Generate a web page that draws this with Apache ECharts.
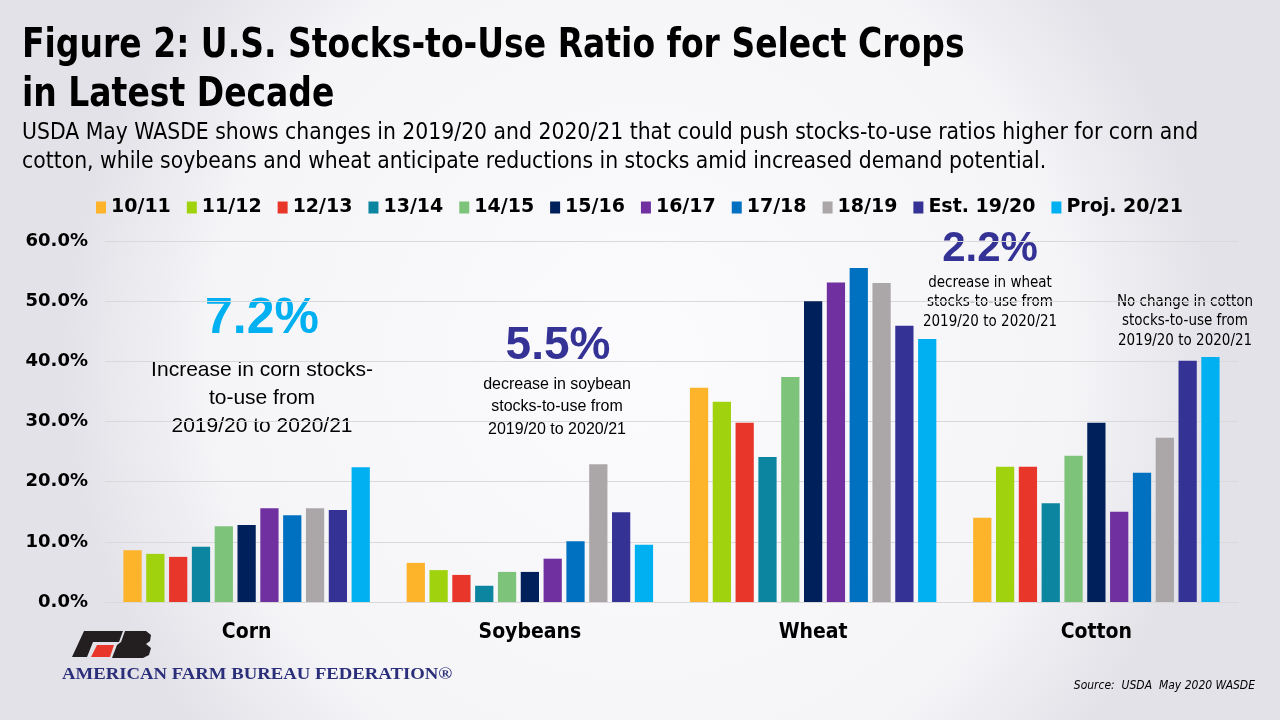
<!DOCTYPE html>
<html>
<head>
<meta charset="utf-8">
<script src="https://cdn.jsdelivr.net/npm/echarts@6/dist/echarts.min.js"></script>
<style>
  html, body { margin: 0; padding: 0; }
  #chart { width: 1280px; height: 720px; }
</style>
</head>
<body>
<div id="chart"></div>
<script>
// crops on the x axis, seasons as the series
var crops = ['Corn', 'Soybeans', 'Wheat', 'Cotton'];
var seasons = ['10/11', '11/12', '12/13', '13/14', '14/15', '15/16', '16/17', '17/18', '18/19', 'Est. 19/20', 'Proj. 20/21'];

// stocks-to-use ratio (%), one value per season
var corn     = [8.6, 8.0, 7.5, 9.2, 12.6, 12.8, 15.6, 14.4, 15.6, 15.3, 22.4];
var soybeans = [6.5, 5.3, 4.5, 2.7, 5.0, 5.0, 7.2, 10.1, 22.9, 14.9, 9.5];
var wheat    = [35.6, 33.3, 29.8, 24.1, 37.4, 50.0, 53.1, 55.5, 53.0, 45.9, 43.7];
var cotton   = [14.0, 22.5, 22.5, 16.4, 24.3, 29.8, 15.0, 21.5, 27.3, 40.1, 40.7];

var yTicks = [0, 10, 20, 30, 40, 50, 60];

var colors = ['#FDB32A', '#A0D20E', '#E8372A', '#0C85A0', '#7DC47A', '#00205B',
              '#7030A0', '#0070C0', '#ABA7A8', '#353296', '#00B0F0'];

var narrow = '"DejaVu Sans Condensed", "Roboto", sans-serif';
var wide = '"DejaVu Sans", sans-serif';
var plain = '"Liberation Sans", Arial, sans-serif';

var byCrop = [corn, soybeans, wheat, cotton];
var series = seasons.map(function (name, i) {
    return {
        name: name,
        type: 'bar',
        barGap: '25%',
        barCategoryGap: '13%',
        itemStyle: { color: colors[i] },
        data: byCrop.map(function (arr) { return arr[i]; })
    };
});

// left-aligned text, top edge at y, optional horizontal squeeze
function txt(x, y, text, font, color, sx, align) {
    return {
        type: 'text', x: x, y: y, scaleX: sx || 1, originX: 0,
        style: { text: text, font: font, fill: color || '#000', textAlign: align || 'left', textVerticalAlign: 'top' }
    };
}

function ctext(cx, y, text, font, color, lh) {
    return {
        type: 'text', x: cx, y: y,
        style: { text: text, font: font, fill: color || '#000', textAlign: 'center', lineHeight: lh }
    };
}

var chart = echarts.init(document.getElementById('chart'));
chart.setOption({
    backgroundColor: {
        type: 'radial', x: 0.5, y: 0.5, r: 0.8,
        colorStops: [
            { offset: 0, color: '#FBFBFD' },
            { offset: 0.75, color: '#F5F5F8' },
            { offset: 1, color: '#E2E2E8' }
        ]
    },
    color: colors,
    animation: false,
    legend: {
        top: 193,
        left: 91,
        itemWidth: 10,
        itemHeight: 12,
        itemGap: 16,
        icon: 'rect',
        textStyle: { fontFamily: wide, fontWeight: 'bold', fontSize: 19, color: '#000' },
        data: seasons
    },
    grid: { left: 105, right: 42, top: 241, bottom: 118, containLabel: false },
    xAxis: {
        type: 'category',
        data: crops,
        axisLine: { show: true, lineStyle: { color: '#D9D9D9' } },
        axisTick: { show: false },
        axisLabel: { margin: 20, fontFamily: narrow, fontWeight: 'bold', fontSize: 21, color: '#000' }
    },
    yAxis: {
        type: 'value',
        min: yTicks[0],
        max: yTicks[yTicks.length - 1],
        interval: 10,
        axisLine: { show: false },
        axisTick: { show: false },
        splitLine: { lineStyle: { color: '#D9D9D9' } },
        axisLabel: {
            margin: 17, fontFamily: wide, fontWeight: 'bold', fontSize: 18, color: '#000',
            formatter: function (v) { return v.toFixed(1) + '%'; }
        }
    },
    series: series,
    graphic: [
        txt(22, 26, 'Figure 2: U.S. Stocks-to-Use Ratio for Select Crops', 'bold 41px ' + narrow, '#000', 0.895),
        txt(22, 75, 'in Latest Decade', 'bold 41px ' + narrow, '#000', 0.895),
        txt(22, 122, 'USDA May WASDE shows changes in 2019/20 and 2020/21 that could push stocks-to-use ratios higher for corn and', '23px ' + narrow, '#000', 0.986),
        txt(22, 151, 'cotton, while soybeans and wheat anticipate reductions in stocks amid increased demand potential.', '23px ' + narrow, '#000', 0.986),

        ctext(262, 294, '7.2%', 'bold 50px ' + plain, '#00B0F0'),
        ctext(262, 356, 'Increase in corn stocks-\nto-use from\n2019/20 to 2020/21', '21px ' + plain, '#000', 28),
        ctext(558, 323, '5.5%', 'bold 46px ' + plain, '#353296'),
        ctext(557, 373, 'decrease in soybean\nstocks-to-use from\n2019/20 to 2020/21', '16px ' + plain, '#000', 22.5),
        ctext(990, 228, '2.2%', 'bold 42px ' + plain, '#353296'),
        ctext(990, 273, 'decrease in wheat\nstocks-to-use from\n2019/20 to 2020/21', '15px ' + narrow, '#000', 19.5),
        ctext(1185, 292, 'No change in cotton\nstocks-to-use from\n2019/20 to 2020/21', '15px ' + narrow, '#000', 19.5),

        // logo
        { type: 'polygon', shape: { points: [[84, 631], [123, 631], [119, 642], [93, 642], [87, 657], [72, 657]] }, style: { fill: '#231F20' } },
        { type: 'polygon', shape: { points: [[97, 645], [114, 645], [110, 657], [91, 657]] }, style: { fill: '#E8372A' } },
        { type: 'polygon', shape: { points: [[125, 631], [146, 631], [151, 635], [150, 641], [146, 644], [151, 648], [149, 655], [143, 658], [112, 658], [117, 645], [121, 642]] }, style: { fill: '#231F20' } },
        txt(62, 667, 'AMERICAN FARM BUREAU FEDERATION\u00AE', 'bold 16px "Liberation Serif", "DejaVu Serif", serif', '#2B2F7A', 1.17),

        {
            type: 'text', right: 25, top: 680,
            style: { text: 'Source:  USDA  May 2020 WASDE', font: 'italic 12px ' + narrow, fill: '#000' }
        }
    ]
});
</script>
</body>
</html>
